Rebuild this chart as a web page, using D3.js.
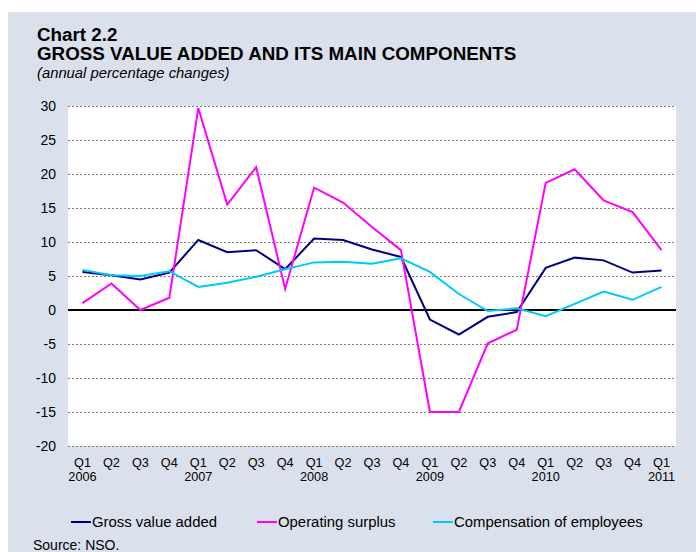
<!DOCTYPE html>
<html>
<head>
<meta charset="utf-8">
<script src="https://cdn.jsdelivr.net/npm/d3@7"></script>
<style>
  body { margin: 0; background: #fff; }
  svg { display: block; font-family: "Liberation Sans", Arial, sans-serif; }
</style>
</head>
<body>
<svg id="chart" width="696" height="552"></svg>
<script>
// quarters Q1 2006 .. Q1 2011
const quarters = ["Q1","Q2","Q3","Q4","Q1","Q2","Q3","Q4","Q1","Q2","Q3","Q4",
  "Q1","Q2","Q3","Q4","Q1","Q2","Q3","Q4","Q1"];
const years = ["2006","","","","2007","","","","2008","","","","2009","","","","2010","","","","2011"];

const grossValueAdded = [5.6, 5.1, 4.5, 5.5, 10.3, 8.5, 8.8, 6.0, 10.5, 10.3, 8.9, 7.8,
  -1.4, -3.6, -1.0, -0.3, 6.2, 7.7, 7.3, 5.5, 5.8];
const operatingSurplus = [1.0, 3.9, 0.0, 1.8, 29.7, 15.5, 21.0, 3.1, 18.0, 15.8, 12.2, 8.8,
  -15.0, -15.0, -4.9, -2.9, 18.7, 20.7, 16.1, 14.4, 8.8];
const compensation = [5.9, 5.1, 5.0, 5.7, 3.4, 4.0, 4.9, 6.0, 7.0, 7.1, 6.8, 7.6,
  5.6, 2.35, -0.15, 0.25, -0.9, 0.9, 2.7, 1.5, 3.4];

const yTicks = [-20, -15, -10, -5, 0, 5, 10, 15, 20, 25, 30];

const series = [
  { name: "Gross value added", values: grossValueAdded, color: "#000080" },
  { name: "Operating surplus", values: operatingSurplus, color: "#ff00ff" },
  { name: "Compensation of employees", values: compensation, color: "#00c8ff" }
];

const svg = d3.select("#chart");
const plot = { left: 68, right: 676, top: 106, bottom: 446 };

// panel background
svg.append("rect")
  .attr("x", 8).attr("y", 12)
  .attr("width", 688).attr("height", 540)
  .attr("fill", "#dbe0ed");

svg.append("text").attr("x", 37).attr("y", 41)
  .attr("font-size", 18.8).attr("font-weight", "bold").text("Chart 2.2");
svg.append("text").attr("x", 37).attr("y", 60)
  .attr("font-size", 18.8).attr("font-weight", "bold")
  .text("GROSS VALUE ADDED AND ITS MAIN COMPONENTS");
svg.append("text").attr("x", 37).attr("y", 78)
  .attr("font-size", 14.8).attr("font-style", "italic")
  .text("(annual percentage changes)");

const x = d3.scaleBand()
  .domain(d3.range(quarters.length))
  .range([plot.left, plot.right]);

const y = d3.scaleLinear()
  .domain([-20, 30])
  .range([plot.bottom, plot.top]);

svg.append("rect")
  .attr("x", plot.left).attr("y", plot.top)
  .attr("width", plot.right - plot.left).attr("height", plot.bottom - plot.top)
  .attr("fill", "#fff");

// gridlines
svg.append("g")
  .selectAll("line")
  .data(yTicks.filter(d => d !== 0))
  .join("line")
  .attr("x1", plot.left).attr("x2", plot.right)
  .attr("y1", d => y(d) + 0.5).attr("y2", d => y(d) + 0.5)
  .attr("stroke", "#808080")
  .attr("stroke-width", 1)
  .attr("stroke-dasharray", "2,2");

// y axis labels (plain hyphen minus like the original)
const yAxis = svg.append("g")
  .attr("transform", `translate(${plot.left},0)`)
  .call(d3.axisLeft(y).tickValues(yTicks).tickSize(0).tickPadding(12).tickFormat(d => String(d)));
yAxis.select(".domain").remove();
yAxis.selectAll("text")
  .attr("font-size", 14)
  .attr("font-family", "Liberation Sans, Arial, sans-serif")
  .attr("fill", "#000");

// x axis labels
const xAxis = svg.append("g")
  .attr("transform", `translate(0,${plot.bottom})`)
  .call(d3.axisBottom(x).tickSize(0).tickPadding(0).tickFormat(""));
xAxis.select(".domain").remove();
xAxis.selectAll(".tick").each(function (d) {
  const g = d3.select(this);
  g.append("text").attr("y", 21).attr("text-anchor", "middle")
    .attr("font-size", 12.7).attr("fill", "#000").text(quarters[d]);
  if (years[d]) {
    g.append("text").attr("y", 35).attr("text-anchor", "middle")
      .attr("font-size", 12.7).attr("fill", "#000").text(years[d]);
  }
});

// zero line
svg.append("line")
  .attr("x1", plot.left).attr("x2", plot.right)
  .attr("y1", y(0)).attr("y2", y(0))
  .attr("stroke", "#000").attr("stroke-width", 2);

const line = d3.line()
  .x((d, i) => x(i) + x.bandwidth() / 2)
  .y(d => y(d));

svg.append("g")
  .selectAll("path")
  .data(series)
  .join("path")
  .attr("fill", "none")
  .attr("stroke", d => d.color)
  .attr("stroke-width", 2)
  .attr("d", d => line(d.values));

// legend
const legendX = [71, 257, 433];
const legend = svg.append("g")
  .selectAll("g")
  .data(series)
  .join("g")
  .attr("transform", (d, i) => `translate(${legendX[i]},522)`);
legend.append("line")
  .attr("x1", 0).attr("x2", 20)
  .attr("stroke", d => d.color).attr("stroke-width", 2);
legend.append("text")
  .attr("x", 21).attr("y", 5)
  .attr("font-size", 14.9)
  .text(d => d.name);

svg.append("text").attr("x", 33).attr("y", 550)
  .attr("font-size", 14).text("Source: NSO.");
</script>
</body>
</html>
